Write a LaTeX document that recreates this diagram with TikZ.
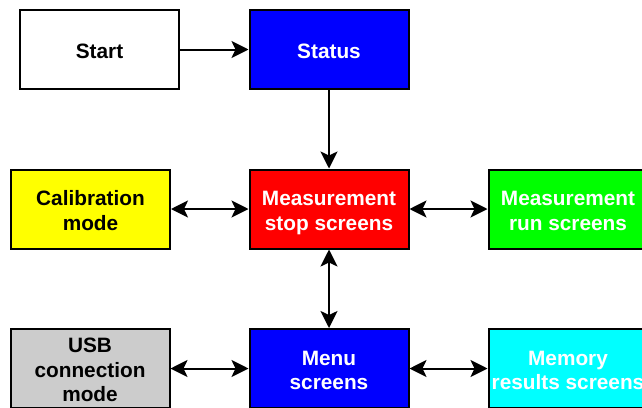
\documentclass[tikz,border=0pt]{standalone}
\usepackage{fontspec}
\setmainfont{Liberation Sans}
\usetikzlibrary{arrows.meta}
\definecolor{cblue}{RGB}{0,0,255}
\definecolor{cred}{RGB}{255,0,0}
\definecolor{cgreen}{RGB}{0,255,0}
\definecolor{cyellow}{RGB}{255,255,0}
\definecolor{ccyan}{RGB}{0,255,255}
\definecolor{cgrey}{RGB}{204,204,204}
\newcommand{\txraise}[2]{\raisebox{#1}[0pt][0pt]{\begin{tabular}[t]{@{}c@{}}#2\end{tabular}}}
\newcommand{\txa}[1]{\txraise{-8.8pt}{#1}}
\newcommand{\txb}[1]{\txraise{3.4pt}{#1}}
\newcommand{\txc}[1]{\txraise{15.8pt}{#1}}
\begin{document}
\begin{tikzpicture}[x=1pt,y=-1pt,
  box/.style={draw=black, line width=2pt, minimum width=159pt, minimum height=79pt,
    inner sep=0pt, font=\fontsize{20.8}{24.6}\selectfont\bfseries},
  tip/.tip={Stealth[length=17pt,width=17pt,inset=4pt]},
  conn/.style={line width=2pt, -tip},
  dconn/.style={line width=2pt, tip-tip}
]
\useasboundingbox (0,0) rectangle (642,407);
\clip (0,0) rectangle (642,407);
\node[box, fill=white, text=black] (start) at (99.5,49.5) {\txa{Start}};
\node[box, fill=cblue, text=white] (status) at (329,49.5) {\txa{Status}};
\node[box, fill=cyellow, text=black] (cal) at (90.5,209) {\txb{Calibration\\mode}};
\node[box, fill=cred, text=white] (stop) at (329,209) {\txb{Measurement\\stop screens}};
\node[box, fill=cgreen, text=white] (run) at (568,209) {\txb{Measurement\\run screens}};
\node[box, fill=cgrey, text=black] (usb) at (90,368.5) {\txc{USB\\connection\\mode}};
\node[box, fill=cblue, text=white] (menu) at (329,368.5) {\txb{Menu\\screens}};
\node[box, fill=ccyan, text=white] (mem) at (568,368.5) {\txb{Memory\\results screens}};
\draw[conn] (start) -- (status);
\draw[conn] (status) -- (stop);
\draw[dconn] (cal) -- (stop);
\draw[dconn] (stop) -- (run);
\draw[dconn] (stop) -- (menu);
\draw[dconn] (usb) -- (menu);
\draw[dconn] (menu) -- (mem);
\end{tikzpicture}
\end{document}
